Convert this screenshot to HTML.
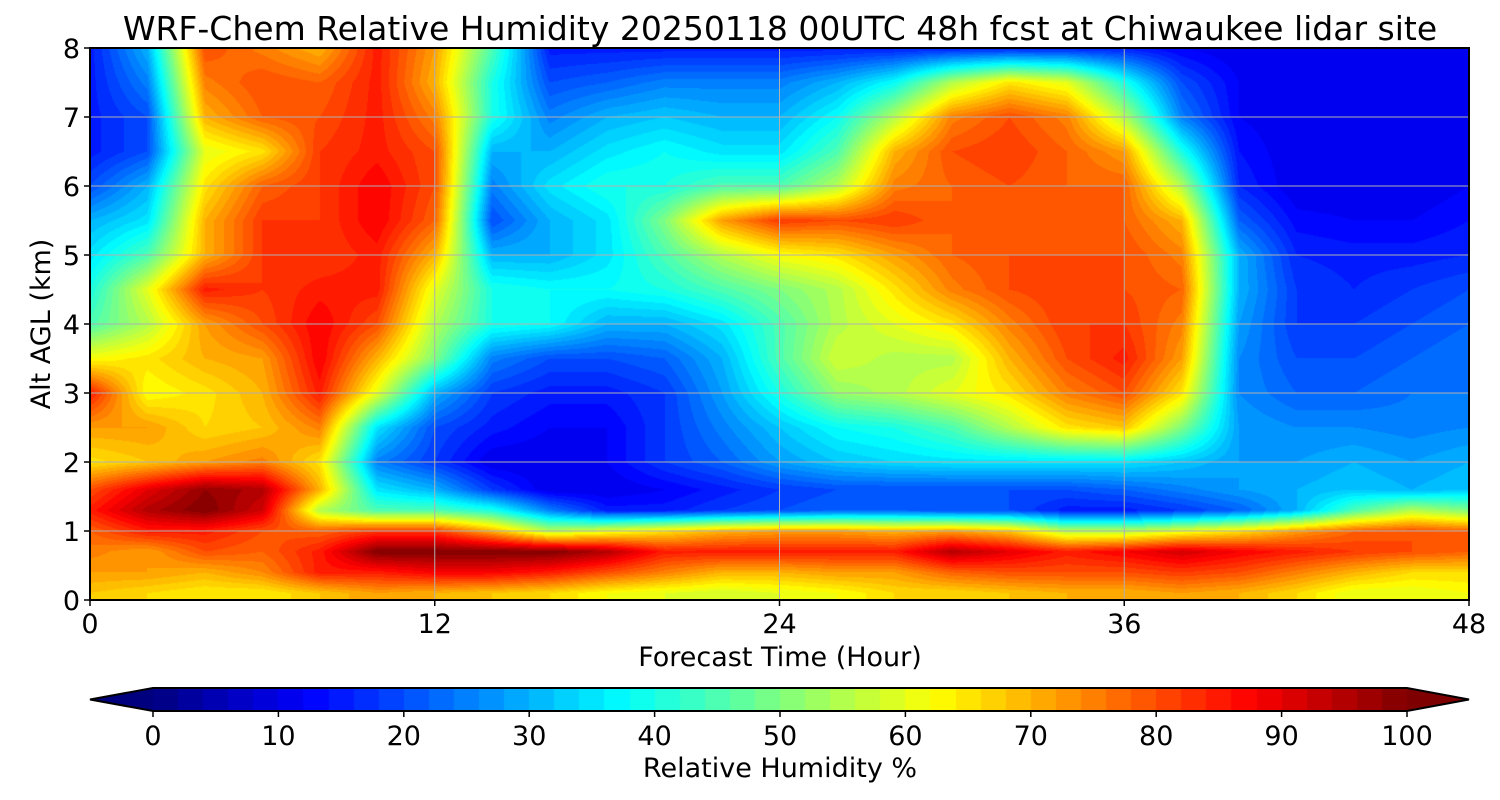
<!DOCTYPE html>
<html><head><meta charset="utf-8">
<style>
body{margin:0;background:#fff;}
#wrap{position:relative;width:1500px;height:800px;font-family:"DejaVu Sans","Liberation Sans",sans-serif;}
canvas{position:absolute;}
svg{position:absolute;left:0;top:0;}
</style></head>
<body>
<div id="wrap">
<canvas id="heat" width="1379" height="552" style="left:90px;top:48px"></canvas>
<canvas id="cbar" width="1254" height="23" style="left:153px;top:688px"></canvas>
<svg id="svg" width="1500" height="800"></svg>
</div>
<script>
const times=[0,2,4,6,8,10,12,14,16,18,20,22,24,26,28,30,32,34,36,38,40,42,44,46,48];
const heights=[0.1,0.4,0.7,1.0,1.3,1.6,2,2.5,3,3.5,4,4.5,5,5.5,6,6.5,7,7.5,8];
const rh=[
[68,66,64,64,68,72,70,68,66,62,60,58,60,62,66,66,68,70,70,72,70,66,60,60,62],
[72,72,70,74,85,85,88,88,85,80,75,70,70,72,72,78,80,80,80,82,80,75,70,66,66],
[75,72,80,78,85,100,100,100,100,95,85,85,85,85,85,95,90,85,88,92,88,85,82,80,78],
[78,85,85,80,78,82,82,70,55,60,65,70,72,72,70,72,68,55,55,60,65,72,78,80,78],
[85,95,100,92,55,45,45,40,25,15,15,18,20,22,22,20,20,15,15,18,22,30,45,55,50],
[80,90,98,95,70,35,30,18,10,10,12,15,18,20,20,20,20,20,22,25,28,30,32,30,32],
[65,68,72,75,65,25,18,10,10,12,18,22,28,32,34,35,35,35,35,32,28,28,30,28,30],
[72,72,66,68,75,35,20,15,12,12,18,25,32,38,40,45,55,65,68,50,28,26,26,25,26],
[85,62,65,70,85,60,30,18,15,15,18,28,40,52,55,60,65,75,80,65,26,22,22,24,24],
[62,65,70,72,88,70,50,25,20,20,22,30,45,58,55,55,70,80,85,72,26,20,20,22,24],
[45,55,72,80,88,80,55,40,38,30,30,35,45,55,60,65,75,82,82,75,28,18,18,20,22],
[40,60,85,82,85,85,60,40,38,38,40,45,50,55,65,75,80,82,80,78,30,18,16,18,20],
[35,45,70,82,82,85,70,30,30,35,45,55,62,65,72,78,80,80,80,75,30,16,15,15,16],
[30,35,70,82,82,88,78,20,30,35,50,72,82,80,82,78,78,80,78,70,22,13,12,12,14],
[20,30,65,78,82,88,80,25,35,40,40,45,45,55,75,78,80,78,78,55,16,10,10,10,12],
[15,20,60,65,82,85,80,30,30,35,38,35,35,45,70,80,82,78,72,40,14,10,10,10,10],
[15,20,70,78,80,85,75,40,25,30,32,30,30,38,55,75,80,75,55,25,12,10,10,10,10],
[15,25,75,80,78,85,70,40,20,22,25,25,25,30,38,55,65,60,40,20,12,10,10,10,10],
[15,30,80,75,70,85,72,45,15,15,15,15,15,15,15,15,15,15,15,12,10,10,10,10,10]
];
const xTicks=[0,12,24,36,48];
const yTicks=[0,1,2,3,4,5,6,7,8];
const cbTicks=[0,10,20,30,40,50,60,70,80,90,100];

const PX=90,PY=48,PW=1379,PH=552;
const xs=t=>PX+t/48*PW, ys=h=>PY+PH-h/8*PH;
function jet(v){
  const r=Math.min(Math.max(Math.min(4*v-1.5,-4*v+4.5),0),1);
  const g=Math.min(Math.max(Math.min(4*v-0.5,-4*v+3.5),0),1);
  const b=Math.min(Math.max(Math.min(4*v+0.5,-4*v+2.5),0),1);
  return [r*255,g*255,b*255];
}
function col(val){
  let q=Math.floor(val/2)*2+1;
  q=Math.max(0,Math.min(100,q));
  return jet(q/100);
}
function interp(arr,v){
  if(v<=arr[0])return [0,0];
  for(let i=0;i<arr.length-1;i++) if(v<=arr[i+1]) return [i,(v-arr[i])/(arr[i+1]-arr[i])];
  return [arr.length-2,1];
}
(function(){
  const c=document.getElementById('heat').getContext('2d');
  const img=c.createImageData(PW,PH);
  const ti=[];for(let x=0;x<PW;x++)ti.push(interp(times,(x+0.5)/PW*48));
  for(let y=0;y<PH;y++){
    const [j,fy]=interp(heights,8-(y+0.5)/PH*8);
    const r0=rh[j],r1=rh[j+1];
    for(let x=0;x<PW;x++){
      const [i,fx]=ti[x];
      const v=(r0[i]*(1-fx)+r0[i+1]*fx)*(1-fy)+(r1[i]*(1-fx)+r1[i+1]*fx)*fy;
      const cc=col(v),k=(y*PW+x)*4;
      img.data[k]=cc[0];img.data[k+1]=cc[1];img.data[k+2]=cc[2];img.data[k+3]=255;
    }
  }
  c.putImageData(img,0,0);
  const cb=document.getElementById('cbar').getContext('2d');
  for(let x=0;x<1254;x++){const cc=col((x+0.5)/1254*100);cb.fillStyle=`rgb(${cc[0]|0},${cc[1]|0},${cc[2]|0})`;cb.fillRect(x,0,1,23);}
})();
const svg=document.getElementById('svg');const NS='http://www.w3.org/2000/svg';
function el(tag,attrs,text){const e=document.createElementNS(NS,tag);for(const k in attrs)e.setAttribute(k,attrs[k]);if(text!==undefined)e.textContent=text;svg.appendChild(e);return e;}
xTicks.forEach(t=>{const l=el('line',{x1:xs(t),x2:xs(t),y1:PY,y2:PY+PH,stroke:'#b0b0b0','stroke-width':1});
});
yTicks.forEach(h=>{const l=el('line',{x1:PX,x2:PX+PW,y1:ys(h),y2:ys(h),stroke:'#b0b0b0','stroke-width':1});
});
const fr=el('rect',{x:PX,y:PY,width:PW,height:PH,fill:'none',stroke:'#000','stroke-width':2});

xTicks.forEach(t=>{el('line',{x1:xs(t),x2:xs(t),y1:PY+PH,y2:PY+PH+6,stroke:'#000','stroke-width':1.5});
const tx=el('text',{x:xs(t),y:633,'text-anchor':'middle','font-size':27},String(t));
});
yTicks.forEach(h=>{el('line',{x1:PX-6,x2:PX,y1:ys(h),y2:ys(h),stroke:'#000','stroke-width':1.5});
const tx=el('text',{x:80,y:ys(h)+10,'text-anchor':'end','font-size':27},String(h));
});
const ti=el('text',{x:780,y:40,'text-anchor':'middle','font-size':33},'WRF-Chem Relative Humidity 20250118 00UTC 48h fcst at Chiwaukee lidar site');

const xl=el('text',{x:780,y:666,'text-anchor':'middle','font-size':27},'Forecast Time (Hour)');

const yl=el('text',{x:0,y:0,'text-anchor':'middle','font-size':27,transform:'translate(50,324) rotate(-90)'},'Alt AGL (km)');

const c0=jet(0),c1=jet(1);
const le=el('polygon',{points:'153,688 90,699.5 153,711',fill:`rgb(${c0.map(v=>v|0)})`});

const re=el('polygon',{points:'1407,688 1469,699.5 1407,711',fill:`rgb(${c1.map(v=>v|0)})`});

const cbo=el('polygon',{points:'153,688 90,699.5 153,711 1407,711 1469,699.5 1407,688',fill:'none',stroke:'#000','stroke-width':2});

cbTicks.forEach(v=>{const x=153+v/100*1254;el('line',{x1:x,x2:x,y1:711,y2:717,stroke:'#000','stroke-width':1.5});
const tx=el('text',{x:x,y:745,'text-anchor':'middle','font-size':27},String(v));
});
const cl=el('text',{x:780,y:777,'text-anchor':'middle','font-size':27},'Relative Humidity %');

</script>
</body></html>
